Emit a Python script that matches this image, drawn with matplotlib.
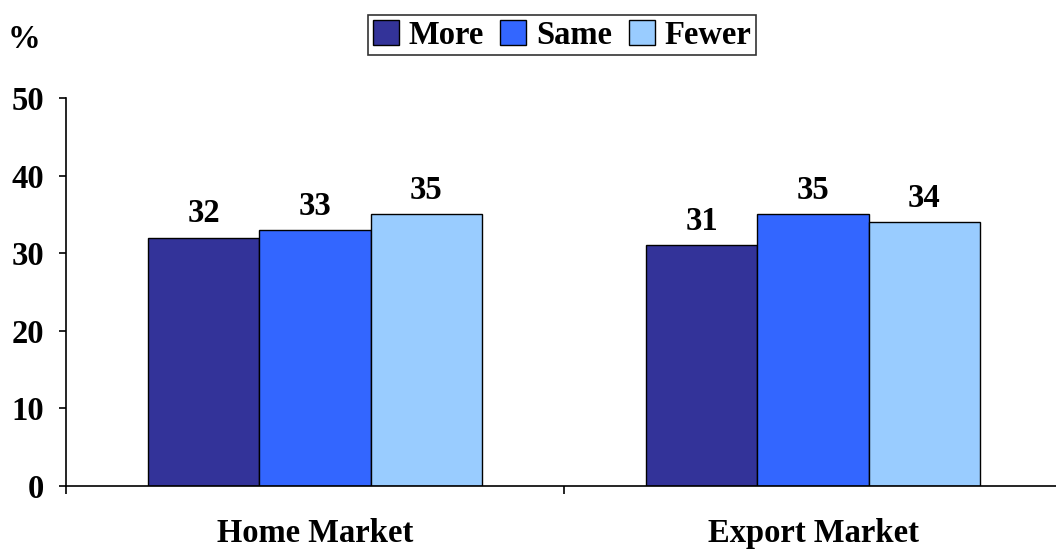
import matplotlib
matplotlib.use("Agg")
import matplotlib.pyplot as plt
import numpy as np

categories = ["Home Market", "Export Market"]
series_names = ["More", "Same", "Fewer"]
more = [32, 31]
same = [33, 35]
fewer = [35, 34]
yticks = [0, 10, 20, 30, 40, 50]

colors = ["#333399", "#3366FF", "#99CCFF"]

plt.rcParams['font.family'] = ['Liberation Serif', 'DejaVu Serif']
plt.rcParams['font.weight'] = 'bold'

FS = 23.5

fig = plt.figure(figsize=(10.56, 5.49), dpi=100)
ax = fig.add_axes([66/1056, 1-486/549, 1.0057-66/1056, (486-98)/549])

x = np.arange(len(categories))
w = 0.223
series = [more, same, fewer]
for i, (vals, name, c) in enumerate(zip(series, series_names, colors)):
    pos = x + (i - 1) * w
    ax.bar(pos, vals, width=w, color=c, edgecolor="black", linewidth=1.0, label=name)
    for p, v in zip(pos, vals):
        ax.annotate(str(v), (p, v), xytext=(0, 6), textcoords="offset points",
                    ha="center", va="bottom", fontsize=FS, fontweight="bold")

ax.set_xlim(-0.5, 1.5)
ax.set_ylim(0, 50)
ax.set_yticks(yticks)
ax.set_yticklabels([str(t) for t in yticks], fontsize=FS, fontweight="bold")
ax.set_xticks([-0.5, 0.5, 1.5])
ax.set_xticklabels([])
ax.set_xticks(x, minor=True)
ax.set_xticklabels(categories, minor=True, fontsize=FS, fontweight="bold")
ax.tick_params(axis="x", which="major", direction="out", length=6, width=1.2)
ax.tick_params(axis="x", which="minor", length=0, pad=23)
ax.tick_params(axis="y", direction="out", length=5, width=1.2, pad=11)
for s in ["top", "right"]:
    ax.spines[s].set_visible(False)
for s in ["left", "bottom"]:
    ax.spines[s].set_linewidth(1.2)
    ax.spines[s].set_color("black")

fig.text(24/1056, 1-40/549, "%", fontsize=FS, fontweight="bold", ha="center", va="center")

leg = fig.legend(loc="center", bbox_to_anchor=(562/1056, 1-35/549), ncol=3,
                 frameon=True, fancybox=False, edgecolor="black",
                 prop={"size": FS, "weight": "bold"}, handlelength=0.8, handleheight=0.8,
                 handletextpad=0.3, columnspacing=0.5, borderpad=0.15, borderaxespad=0)
leg.get_frame().set_linewidth(1.2)

fig.savefig("out.png", dpi=100)
